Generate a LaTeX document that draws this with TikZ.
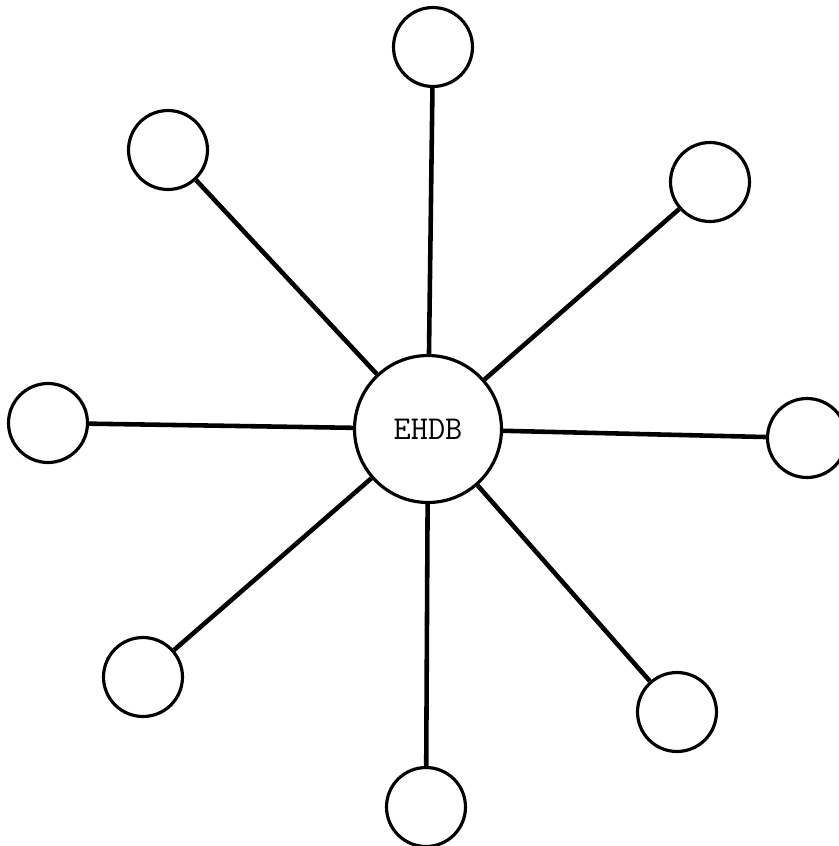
\documentclass[tikz,border=0pt]{standalone}
\usepackage{tikz}
\usetikzlibrary{positioning}

\begin{document}
\begin{tikzpicture}[
  x=0.02cm, y=-0.02cm,
  hubnode/.style={circle, draw, line width=1.8pt, minimum size=2.94cm,
    inner sep=0pt, font=\ttfamily\fontsize{19}{22}\selectfont},
  site/.style={circle, draw, line width=1.8pt, minimum size=1.58cm,
    inner sep=0pt},
  spoke/.style={line width=2.6pt}
]
  \useasboundingbox (0,0) rectangle (839,846);
  \node[hubnode] (hub) at (428,429) {EHDB};
  \node[site] (top) at (433,47)  {};
  \node[site] (upl) at (168,150) {};
  \node[site] (upr) at (710,182) {};
  \node[site] (lft) at (48,423)  {};
  \node[site] (rgt) at (807,438) {};
  \node[site] (lwl) at (143,677) {};
  \node[site] (lwr) at (677,712) {};
  \node[site] (bot) at (426,807) {};
  % Spokes
  \draw[spoke] (hub) -- (top);
  \draw[spoke] (hub) -- (upl);
  \draw[spoke] (hub) -- (upr);
  \draw[spoke] (hub) -- (lft);
  \draw[spoke] (hub) -- (rgt);
  \draw[spoke] (hub) -- (lwl);
  \draw[spoke] (hub) -- (lwr);
  \draw[spoke] (hub) -- (bot);
\end{tikzpicture}
\end{document}
